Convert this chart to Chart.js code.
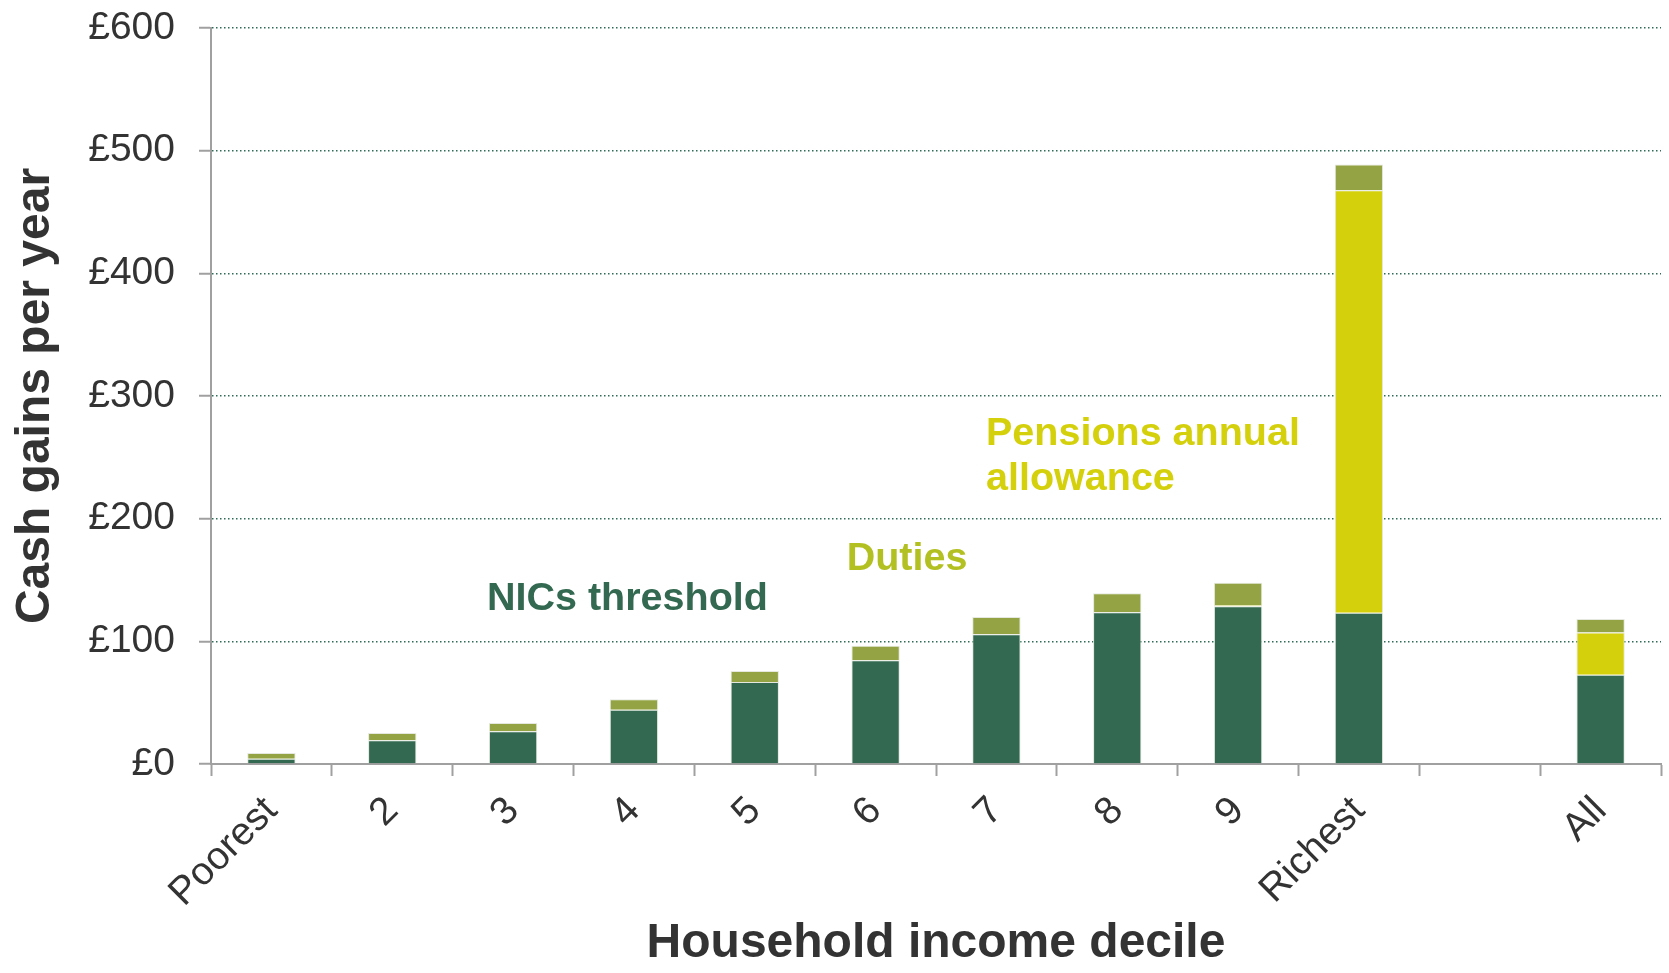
<!DOCTYPE html>
<html>
<head>
<meta charset="utf-8">
<script src="https://cdn.jsdelivr.net/npm/chart.js@4"></script>
<style>
    body { margin: 0; background: #fff; }
    #wrap { width: 1669px; height: 973px; }
</style>
</head>
<body>
<div id="wrap"><canvas id="gainsChart" width="1669" height="973"></canvas></div>
<script>
// Household income deciles (blank slot separates "All")
const categories = ['Poorest', '2', '3', '4', '5', '6', '7', '8', '9', 'Richest', '', 'All'];

// Cash gains per year, £
const nicsThreshold = [4.3, 19.3, 26.6, 44.3, 66.9, 84.5, 105.7, 123.7, 128.6, 123.3, null, 72.8];
const pensionsAllowance = [0, 0, 0, 0, 0, 0, 0, 0, 1.0, 344.5, null, 34.5];
const duties = [4.7, 6.0, 6.8, 8.4, 9.0, 12.0, 14.2, 15.5, 18.2, 20.9, null, 11.0];

const yTicks = [0, 100, 200, 300, 400, 500, 600];

const FONT = "'Liberation Sans', Arial, sans-serif";
const TEXT = '#333333';
const AXIS_GREY = '#a0a0a0';

// Series names written inside the plot (x in category slots, y in £)
const seriesLabels = [
    { lines: ['NICs threshold'], color: '#336950', x: 1.784, y: 125.8 },
    { lines: ['Duties'], color: '#b3c021', x: 4.761, y: 157.8 },
    { lines: ['Pensions annual', 'allowance'], color: '#d4d00c', x: 5.914, y: 260.3 }
];

const seriesLabelPlugin = {
    id: 'seriesLabels',
    afterDatasetsDraw(chart) {
        const { ctx, scales } = chart;
        const xs = scales.x;
        const ys = scales.y;
        const slot = xs.width / categories.length;
        const origin = xs.getPixelForValue(0);
        ctx.save();
        ctx.font = 'bold 39.5px ' + FONT;
        ctx.textAlign = 'left';
        ctx.textBaseline = 'alphabetic';
        seriesLabels.forEach(label => {
            ctx.fillStyle = label.color;
            const px = origin + label.x * slot;
            const py = ys.getPixelForValue(label.y);
            label.lines.forEach((line, i) => {
                ctx.fillText(line, px, py + i * 45.7);
            });
        });
        ctx.restore();
    }
};

// Grey y axis line drawn solid (grid lines themselves are dotted)
const solidAxisPlugin = {
    id: 'solidAxis',
    afterDraw(chart) {
        const { ctx, chartArea } = chart;
        ctx.save();
        ctx.strokeStyle = AXIS_GREY;
        ctx.lineWidth = 2;
        ctx.beginPath();
        ctx.moveTo(chartArea.left, chartArea.top);
        ctx.lineTo(chartArea.left, chartArea.bottom);
        ctx.stroke();
        ctx.restore();
    }
};

const barBorder = 'rgba(225, 230, 220, 0.9)';

new Chart(document.getElementById('gainsChart').getContext('2d'), {
    type: 'bar',
    data: {
        labels: categories,
        datasets: [
            {
                label: 'NICs threshold',
                data: nicsThreshold,
                backgroundColor: '#336950',
                borderColor: barBorder,
                borderWidth: 1
            },
            {
                label: 'Pensions annual allowance',
                data: pensionsAllowance,
                backgroundColor: '#d4d00c',
                borderColor: barBorder,
                borderWidth: 1
            },
            {
                label: 'Duties',
                data: duties,
                backgroundColor: '#94a444',
                borderColor: barBorder,
                borderWidth: 1
            }
        ]
    },
    options: {
        responsive: false,
        animation: false,
        barPercentage: 0.4,
        categoryPercentage: 1.0,
        layout: {
            padding: { top: 28, right: 8, left: 0, bottom: 0 }
        },
        plugins: {
            legend: { display: false },
            tooltip: { enabled: false }
        },
        scales: {
            x: {
                stacked: true,
                grid: {
                    drawOnChartArea: false,
                    drawTicks: true,
                    tickLength: 12,
                    tickColor: AXIS_GREY,
                    tickWidth: 2
                },
                border: { display: true, color: AXIS_GREY, width: 2 },
                ticks: {
                    minRotation: 45,
                    maxRotation: 45,
                    autoSkip: false,
                    padding: 12,
                    color: TEXT,
                    font: { family: FONT, size: 39 }
                },
                title: {
                    display: true,
                    text: 'Household income decile',
                    color: TEXT,
                    padding: { top: 0, bottom: 0 },
                    font: { family: FONT, size: 48, weight: 'bold' }
                },
                afterFit(scale) {
                    scale.height = 209;
                    scale.paddingLeft = 0;
                    scale.paddingRight = 0;
                }
            },
            y: {
                stacked: true,
                min: 0,
                max: 600,
                afterBuildTicks(scale) {
                    scale.ticks = yTicks.map(v => ({ value: v }));
                },
                grid: {
                    color: ctx => (ctx.tick && ctx.tick.value === 0) ? 'rgba(0,0,0,0)' : '#2f6b55',
                    lineWidth: 1.5,
                    tickLength: 12,
                    tickColor: AXIS_GREY,
                    tickWidth: 2,
                    tickBorderDash: []
                },
                border: { display: true, color: AXIS_GREY, width: 2, dash: [1.5, 2.5] },
                ticks: {
                    padding: 24,
                    color: TEXT,
                    font: { family: FONT, size: 39 },
                    callback: value => '£' + value
                },
                title: {
                    display: true,
                    text: 'Cash gains per year',
                    color: TEXT,
                    padding: { top: 7, bottom: 0 },
                    font: { family: FONT, size: 48, weight: 'bold' }
                },
                afterFit(scale) {
                    scale.width = 211;
                    scale.paddingTop = 0;
                    scale.paddingBottom = 0;
                }
            }
        }
    },
    plugins: [seriesLabelPlugin, solidAxisPlugin]
});
</script>
</body>
</html>
